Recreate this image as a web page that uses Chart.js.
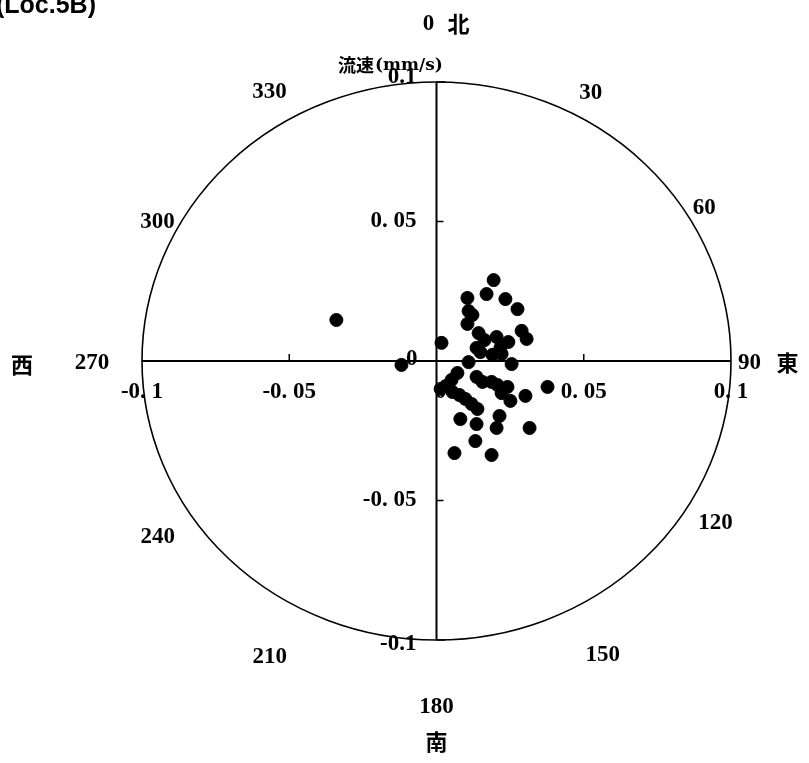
<!DOCTYPE html>
<html><head><meta charset="utf-8">
<script src="https://cdn.jsdelivr.net/npm/chart.js@4/dist/chart.umd.min.js"></script>
<style>html,body{margin:0;padding:0;background:#fff;overflow:hidden;}</style>
</head><body>
<canvas id="c" width="809" height="763"></canvas>
<script>
// Flow velocity components (mm/s): east (x) and north (y)
const eastValues = [-0.0340,-0.0119,0.0017,0.0194,0.0170,0.0105,0.0234,0.0275,0.0109,0.0122,
  0.0105,0.0143,0.0204,0.0289,0.0306,0.0163,0.0244,0.0136,0.0217,0.0149,
  0.0190,0.0221,0.0109,0.0255,0.0071,0.0051,0.0031,0.0054,0.0078,0.0098,
  0.0119,0.0139,0.0136,0.0156,0.0187,0.0207,0.0241,0.0221,0.0251,0.0302,
  0.0377,0.0081,0.0136,0.0214,0.0204,0.0316,0.0132,0.0061,0.0187,0.0014];
const northValues = [0.0147,-0.0014,0.0065,0.0290,0.0240,0.0226,0.0222,0.0186,0.0179,0.0165,
  0.0133,0.0100,0.0086,0.0108,0.0079,0.0075,0.0068,0.0047,0.0047,0.0032,
  0.0022,0.0025,-0.0004,-0.0011,-0.0043,-0.0068,-0.0090,-0.0111,-0.0122,-0.0136,
  -0.0154,-0.0172,-0.0057,-0.0075,-0.0075,-0.0086,-0.0093,-0.0115,-0.0143,-0.0125,
  -0.0093,-0.0208,-0.0226,-0.0197,-0.0240,-0.0240,-0.0287,-0.0330,-0.0337,-0.0100];
const tickValues = [-0.1,-0.05,0,0.05,0.1];
const xTickLabels = ['-0. 1','-0. 05','0','0. 05','0. 1'];
const yTickLabels = ['-0.1','-0. 05','0','0. 05','0.1'];
const bearingLabels = ['0','30','60','90','120','150','180','210','240','270','300','330'];
const compassLabels = ['北','東','南','西'];
const titleText = '(Loc.5B)';
const unitCjk = '流速';
const unitText = '(mm/s)';

// label layout: placement angle (deg from north) and radius factor relative to circle
const placeAngles = [0,28.6,58.9,90,121.5,151.8,180,208.1,236.3,270,297.7,329.5];
const placeRadius = [1.21,1.094,1.062,1.063,1.111,1.195,1.24,1.203,1.138,1.17,1.07,1.118];

const points = eastValues.map((v,i)=>({x:v,y:northValues[i]}));
const NUM = 'bold 23px "Liberation Serif", "DejaVu Serif", serif';
const CJK = 'bold 22px "Noto Sans CJK JP", sans-serif';

const polarFrame = {
  id:'polarFrame',
  beforeDatasetsDraw(chart){
    const {ctx} = chart;
    const xs = chart.scales.x, ys = chart.scales.y;
    const cx = xs.getPixelForValue(0), cy = ys.getPixelForValue(0);
    const rx = xs.getPixelForValue(0.1)-cx, ry = cy-ys.getPixelForValue(0.1);
    ctx.save();
    ctx.strokeStyle='#000';
    ctx.lineWidth=1.6;
    ctx.beginPath();
    ctx.ellipse(cx,cy,rx,ry,0,0,Math.PI*2);
    ctx.stroke();
    ctx.lineWidth=2;
    ctx.beginPath();
    ctx.moveTo(xs.getPixelForValue(-0.1),cy);
    ctx.lineTo(xs.getPixelForValue(0.1),cy);
    ctx.moveTo(cx,ys.getPixelForValue(0.1));
    ctx.lineTo(cx,ys.getPixelForValue(-0.1));
    ctx.stroke();
    ctx.lineWidth=1.5;
    ctx.beginPath();
    tickValues.forEach(v=>{
      if(v===0) return;
      const py = ys.getPixelForValue(v);
      ctx.moveTo(cx,py); ctx.lineTo(cx+(Math.abs(v)===0.1?9:7),py);
      const px = xs.getPixelForValue(v);
      if(Math.abs(v)!==0.1){ ctx.moveTo(px,cy); ctx.lineTo(px,cy-7); }
    });
    ctx.stroke();
    ctx.restore();
  },
  afterDraw(chart){
    const {ctx} = chart;
    const xs = chart.scales.x, ys = chart.scales.y;
    const cx = xs.getPixelForValue(0), cy = ys.getPixelForValue(0);
    ctx.save();
    ctx.fillStyle='#000';
    ctx.textBaseline='middle';
    ctx.font=NUM;
    ctx.textAlign='center';
    tickValues.forEach((v,i)=>{
      ctx.fillText(xTickLabels[i], xs.getPixelForValue(v)+(v===0?4:0), cy+31);
    });
    ctx.textAlign='right';
    tickValues.forEach((v,i)=>{
      if(v===0) return;
      let py = ys.getPixelForValue(v);
      if(v===0.1) py -= 5;
      if(v===-0.1) py += 4;
      ctx.fillText(yTickLabels[i], cx-20, py);
    });
    ctx.fillText('0', cx-19, cy-2);
    ctx.textAlign='center';
    bearingLabels.forEach((t,i)=>{
      const a = placeAngles[i]*Math.PI/180, r = placeRadius[i]*0.1;
      const px = xs.getPixelForValue(r*Math.sin(a));
      const py = ys.getPixelForValue(r*Math.cos(a));
      ctx.font=NUM;
      if(i===0){
        ctx.fillText(t, px-8, py+1);
        ctx.font=CJK; ctx.fillText(compassLabels[0], px+22, py);
      } else if(i===6){
        ctx.fillText(t, px, py);
        ctx.font=CJK; ctx.fillText(compassLabels[2], px, py+35);
      } else if(i===3){
        ctx.fillText(t, px, py+2);
        ctx.font=CJK; ctx.fillText(compassLabels[1], px+38, py+2);
      } else if(i===9){
        ctx.fillText(t, px, py+2);
        ctx.font=CJK; ctx.fillText(compassLabels[3], px-70, py+4);
      } else {
        ctx.fillText(t, px, py);
      }
    });
    ctx.font='bold 18px "Noto Sans CJK JP", sans-serif';
    ctx.textAlign='right';
    ctx.fillText(unitCjk, 374, 65);
    ctx.font='bold 17px "DejaVu Serif", serif';
    ctx.textAlign='left';
    ctx.fillText(unitText, 375, 66);
    ctx.font='bold 25px "Liberation Sans", Arial, sans-serif';
    ctx.textBaseline='alphabetic';
    ctx.fillText(titleText, -4, 13);
    ctx.restore();
  }
};

new Chart(document.getElementById('c'),{
  type:'scatter',
  data:{datasets:[{data:points,backgroundColor:'#000',borderColor:'#000',pointRadius:6.5,pointHoverRadius:6.5}]},
  options:{
    responsive:false,animation:false,
    layout:{padding:{left:142,right:78,top:82,bottom:123}},
    plugins:{legend:{display:false},tooltip:{enabled:false}},
    scales:{
      x:{type:'linear',min:-0.1,max:0.1,display:false},
      y:{type:'linear',min:-0.1,max:0.1,display:false}
    }
  },
  plugins:[polarFrame]
});
</script>
</body></html>
